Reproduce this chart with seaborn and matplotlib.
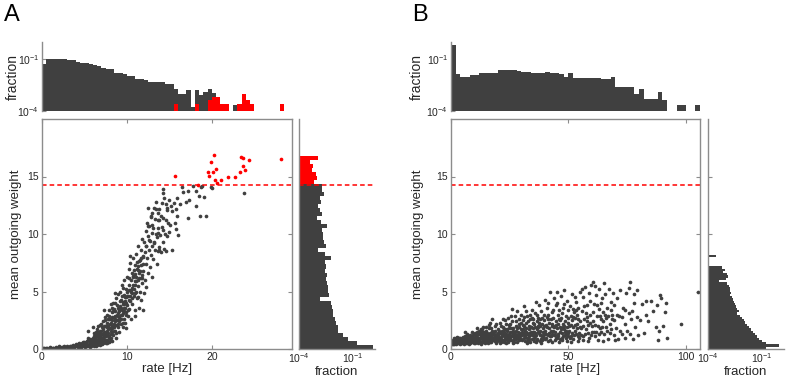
import numpy as np
import pandas as pd
import matplotlib
matplotlib.use("Agg")
import matplotlib.pyplot as plt
import seaborn as sns
from matplotlib.ticker import FixedLocator, LogFormatterMathtext, NullLocator, NullFormatter

# ---------------- data ----------------
threshold = 14.25

# Panel A: rate histogram (fraction), 0.5 Hz bins starting at 0
a_rate_bin = 0.5
a_rate_frac_gray = [0.051, 0.11, 0.11, 0.11, 0.10, 0.10, 0.087, 0.087, 0.072, 0.063,
                    0.063, 0.052, 0.047, 0.043, 0.032, 0.026, 0.026, 0.017, 0.017, 0.0145,
                    0.011, 0.011, 0.0072, 0.0072, 0.006, 0.005, 0.005, 0.0046, 0.0046, 0.0038,
                    0.0038, 0.002, 0.001, 0.001, 0.0016, 0.00018, 0.0016, 0.00085, 0.0013, 0.0019,
                    0.00105, 0.00068, 0.00025, 0.00025, 0, 0.00022, 0.00025, 0.00093, 0.00044, 0.00025,
                    0, 0, 0, 0, 0, 0, 0, 0]
a_rate_frac_red = [0, 0, 0, 0, 0, 0, 0, 0, 0, 0,
                   0, 0, 0, 0, 0, 0, 0, 0, 0, 0,
                   0, 0, 0, 0, 0, 0, 0, 0, 0, 0,
                   0, 0.00025, 0, 0, 0, 0, 0.00025, 0, 0, 0.00044,
                   0.00068, 0.00068, 0.00025, 0.00025, 0, 0, 0.00025, 0.00093, 0.00044, 0.00025,
                   0, 0, 0, 0, 0, 0, 0.00025, 0]

# Panel A: weight histogram (fraction), 0.35 bins starting at 0
a_weight_bin = 0.35
a_weight_frac_gray = [1.35, 0.16, 0.055, 0.029, 0.0155, 0.014, 0.011, 0.01, 0.0081, 0.0074,
                      0.0065, 0.006, 0.0015, 0.0049, 0.0043, 0.0039, 0.0035, 0.003, 0.0035, 0.0028,
                      0.003, 0.0028, 0.0058, 0.0028, 0.0012, 0.003, 0.0026, 0.0022, 0.0022, 0.002,
                      0.0036, 0.0017, 0.00096, 0.0018, 0.0015, 0.0012, 0.0017, 0.0015, 0.0026, 0.002,
                      0.0018]
a_weight_frac_red = [0.0007, 0.00105, 0.00087, 0.00055, 0.00063, 0.00041, 0.0012]

# Panel B: rate histogram (fraction), 2 Hz bins starting at 0
b_rate_bin = 2.0
b_rate_frac = [0.68, 0.0135, 0.0098, 0.0098, 0.0123, 0.0123, 0.015, 0.015, 0.017, 0.017,
               0.025, 0.025, 0.024, 0.024, 0.021, 0.019, 0.019, 0.016, 0.016, 0.016,
               0.019, 0.0155, 0.0155, 0.0135, 0.0098, 0.015, 0.0078, 0.0078, 0.0083, 0.0083,
               0.0078, 0.0078, 0.0069, 0.0069, 0.0088, 0.0026, 0.0026, 0.0026, 0.0024, 0.00093,
               0.002, 0.0005, 0.0005, 0.0005, 0.0012, 0.00044, 0, 0, 0.00022, 0.00022,
               0, 0, 0.00022]

# Panel B: weight histogram (fraction), 0.2 bins starting at 0
b_weight_bin = 0.2
b_weight_frac = [0.17, 0.9, 0.16, 0.1, 0.065, 0.05, 0.04, 0.03, 0.024, 0.019,
                 0.015, 0.012, 0.0096, 0.0078, 0.0062, 0.004, 0.005, 0.0043, 0.0035, 0.003,
                 0.0028, 0.0023, 0.0021, 0.0017, 0.002, 0.0016, 0.0017, 0.0014, 0.0011, 0.0004,
                 0.001, 0.0013, 0.0011, 0.0007, 0.00083, 0.0006, 0, 0, 0, 0,
                 0.00028]

# Panel A scatter: (rate [Hz], mean outgoing weight), neurons below the threshold
a_points_below = [
    (0.1, 0.02), (0.3, 0.03), (0.5, 0.05), (0.7, 0.04), (0.9, 0.08), (1.1, 0.06), (1.3, 0.1), (1.5, 0.08),
    (1.7, 0.12), (1.9, 0.1), (2.1, 0.15), (2.3, 0.12), (2.5, 0.18), (2.7, 0.14), (2.9, 0.2), (3.1, 0.16),
    (3.3, 0.24), (3.5, 0.18), (3.7, 0.28), (3.9, 0.22), (4.1, 0.3), (4.3, 0.25), (4.5, 0.35), (4.7, 0.28),
    (4.9, 0.42), (2.0, 0.22), (3.0, 0.3), (4.0, 0.45), (1.0, 0.15), (3.6, 0.38), (4.4, 0.55), (4.8, 0.6),
    (0.2, 0.08), (0.6, 0.1), (1.2, 0.02), (1.6, 0.18), (2.2, 0.05), (2.6, 0.26), (3.2, 0.08), (3.8, 0.12),
    (4.2, 0.15), (4.6, 0.45), (5.4, 1.6),
    (5.1, 0.2), (5.2, 0.45), (5.3, 0.7), (5.5, 0.3), (5.6, 0.55), (5.7, 0.85), (5.8, 0.25), (5.9, 0.6),
    (6.0, 1.0), (5.4, 0.95), (5.3, 0.25), (5.7, 0.15), (5.6, 0.4), (5.9, 0.35), (5.0, 0.6),
    (6.1, 0.3), (6.2, 0.7), (6.2, 1.2), (6.3, 0.5), (6.4, 0.9), (6.5, 0.35), (6.5, 1.4), (6.6, 0.65),
    (6.7, 1.1), (6.8, 0.45), (6.8, 1.6), (6.9, 0.85), (7.0, 1.3), (6.3, 1.5), (6.6, 2.0), (6.0, 1.9),
    (6.1, 0.55), (6.4, 0.5), (6.7, 0.8), (6.9, 0.6), (6.2, 0.95), (6.6, 1.25), (6.3, 0.25), (6.8, 0.35),
    (7.1, 0.4), (7.1, 1.0), (7.2, 1.7), (7.2, 2.4), (7.3, 0.6), (7.3, 1.3), (7.4, 2.0), (7.4, 2.8),
    (7.5, 0.5), (7.5, 1.1), (7.6, 1.6), (7.6, 2.3), (7.7, 0.8), (7.7, 3.0), (7.8, 1.4), (7.8, 2.0),
    (7.9, 0.6), (7.9, 2.6), (8.0, 1.0), (8.0, 1.8), (7.0, 2.2), (7.35, 3.4), (7.1, 0.7), (7.3, 0.9),
    (7.5, 0.8), (7.7, 1.2), (7.9, 1.1), (7.0, 1.6), (7.4, 1.5), (7.8, 1.7), (7.2, 0.5), (7.6, 0.55),
    (8.0, 0.7),
    (8.1, 1.3), (8.1, 2.3), (8.2, 3.2), (8.2, 0.7), (8.3, 1.8), (8.3, 2.8), (8.4, 4.0), (8.4, 1.2),
    (8.5, 2.2), (8.5, 3.5), (8.6, 1.6), (8.6, 2.9), (8.7, 4.4), (8.7, 1.0), (8.8, 2.5), (8.8, 3.8),
    (8.9, 1.9), (8.9, 3.1), (9.0, 4.8), (9.0, 2.2), (8.15, 3.9), (8.55, 4.9), (8.1, 1.6), (8.3, 1.5),
    (8.5, 1.9), (8.7, 2.1), (8.9, 2.5), (8.2, 2.0), (8.6, 2.4), (9.0, 2.9),
    (9.1, 1.5), (9.1, 2.8), (9.2, 3.7), (9.2, 5.0), (9.3, 2.2), (9.3, 4.3), (9.4, 3.0), (9.4, 5.6),
    (9.5, 1.9), (9.5, 3.9), (9.6, 2.6), (9.6, 4.7), (9.7, 3.3), (9.7, 6.0), (9.8, 2.3), (9.8, 4.2),
    (9.9, 5.2), (9.9, 3.0), (10.0, 3.8), (10.0, 6.3), (9.55, 5.3), (9.85, 1.8), (9.1, 2.4), (9.3, 3.0),
    (9.5, 3.1), (9.7, 3.9), (9.9, 4.0), (9.4, 3.4), (9.8, 3.6), (9.11, 3.4), (9.5, 4.12), (8.52, 2.82),
    (7.94, 3.4),
    (10.1, 2.9), (10.1, 4.6), (10.2, 5.6), (10.2, 7.0), (10.3, 3.5), (10.3, 6.2), (10.4, 4.2), (10.4, 7.5),
    (10.5, 5.0), (10.5, 2.6), (10.6, 6.6), (10.6, 3.9), (10.7, 5.6), (10.7, 7.9), (10.8, 4.6), (10.8, 6.9),
    (10.9, 3.4), (10.9, 5.9), (11.0, 7.3), (11.0, 4.9), (10.35, 8.1), (10.95, 2.9), (10.2, 4.3), (10.6, 4.9),
    (11.0, 5.6), (10.67, 6.31), (10.48, 5.14), (9.89, 4.56),
    (11.1, 6.3), (11.1, 8.3), (11.2, 4.4), (11.2, 7.0), (11.3, 5.5), (11.3, 9.0), (11.4, 6.6), (11.4, 3.6),
    (11.5, 7.7), (11.5, 5.0), (11.6, 8.6), (11.6, 6.2), (11.7, 4.3), (11.7, 7.3), (11.8, 9.6), (11.8, 5.7),
    (11.9, 8.0), (11.9, 6.8), (12.0, 4.9), (12.0, 9.3), (11.84, 3.4), (11.4, 6.2), (11.26, 4.56), (11.07, 5.87),
    (11.77, 6.17), (11.26, 6.89), (11.45, 7.61), (11.84, 8.05),
    (12.1, 6.0), (12.1, 8.4), (12.2, 10.3), (12.2, 7.4), (12.3, 5.4), (12.3, 9.0), (12.4, 11.0), (12.4, 7.9),
    (12.5, 6.6), (12.5, 9.8), (12.6, 8.6), (12.6, 10.7), (12.7, 7.1), (12.7, 9.4), (12.8, 11.5), (12.8, 8.2),
    (12.9, 10.1), (12.9, 6.3), (13.0, 9.0), (13.0, 11.8), (12.43, 12.3), (12.24, 8.92), (12.63, 9.5),
    (12.82, 11.53), (12.43, 10.66),
    (13.1, 7.8), (13.1, 10.5), (13.2, 12.3), (13.2, 9.3), (13.3, 8.6), (13.3, 11.3), (13.4, 10.0), (13.4, 12.8),
    (13.5, 7.4), (13.5, 9.7), (13.6, 11.8), (13.6, 8.5), (13.7, 10.5), (13.7, 11.2), (13.8, 8.9), (13.8, 12.2),
    (13.9, 9.9), (14.0, 11.6), (14.0, 8.4), (13.41, 12.2), (13.72, 11.25), (13.01, 10.81), (13.6, 10.08),
    (13.2, 9.21), (13.8, 8.63),
    (14.1, 10.6), (14.1, 12.7), (14.2, 9.3), (14.19, 13.95), (14.19, 13.57), (14.3, 11.4), (14.38, 13.14),
    (14.4, 8.7), (14.5, 10.0), (14.58, 11.25), (14.58, 8.49), (14.7, 12.3), (14.77, 9.85), (14.8, 11.0),
    (14.97, 12.93), (15.0, 10.2), (14.19, 10.36), (14.6, 12.6), (14.77, 12.12),
    (15.05, 10.81), (15.17, 12.41), (15.28, 8.63), (15.36, 11.97), (15.64, 10.95), (15.75, 10.43),
    (15.94, 11.53), (16.03, 9.94), (15.5, 12.7), (15.8, 12.2), (16.2, 12.6), (16.46, 14.1), (16.65, 13.63),
    (15.9, 13.1),
    (17.23, 13.72), (17.32, 12.93), (17.2, 11.39), (17.82, 14.2), (18.1, 12.41), (18.17, 13.72),
    (18.49, 13.34), (18.57, 11.6), (18.88, 14.2), (19.07, 13.22), (19.27, 11.6), (23.76, 13.57),
    (19.9, 14.05), (18.7, 14.1), (17.0, 12.8), (20.0, 14.0),
]
# Panel A scatter: extra neurons in the dense low-rate core
a_points_core = [
    (0.4, 0.0), (0.8, 0.02), (1.4, 0.04), (1.8, 0.06), (2.4, 0.08), (2.8, 0.1), (3.4, 0.12), (3.7, 0.1),
    (4.4, 0.2), (0.15, 0.05), (1.25, 0.13), (2.35, 0.2), (3.45, 0.3), (4.25, 0.4), (4.65, 0.15),
    (4.55, 0.2), (4.75, 0.5), (4.95, 0.3), (5.15, 0.6), (5.35, 0.45), (5.45, 0.8), (5.65, 0.7), (5.85, 0.9),
    (5.95, 0.45), (5.25, 0.35),
    (6.05, 0.75), (6.15, 1.1), (6.25, 0.4), (6.35, 0.75), (6.45, 1.15), (6.55, 0.55), (6.65, 1.5), (6.75, 0.95),
    (6.85, 1.3), (6.95, 1.05), (6.45, 1.7), (6.85, 2.1), (6.15, 1.35),
    (7.05, 1.9), (7.15, 1.3), (7.25, 2.0), (7.35, 1.1), (7.45, 2.5), (7.55, 1.35), (7.65, 1.9), (7.75, 2.6),
    (7.85, 1.0), (7.95, 2.2), (7.25, 1.5), (7.55, 2.0), (7.85, 2.9),
    (8.05, 2.6), (8.15, 1.0), (8.25, 2.5), (8.35, 3.3), (8.45, 1.6), (8.55, 2.6), (8.65, 3.3), (8.75, 1.4),
    (8.85, 3.0), (8.95, 3.6), (8.25, 3.6), (8.65, 4.0),
    (9.05, 3.3), (9.15, 4.2), (9.25, 2.6), (9.35, 3.6), (9.45, 4.6), (9.55, 2.3), (9.65, 3.6), (9.75, 4.5),
    (9.85, 3.2), (9.95, 4.6), (10.05, 5.0), (10.15, 3.4), (10.25, 5.1), (10.35, 4.6), (10.45, 6.0),
    (10.55, 4.4), (10.65, 5.3), (10.75, 6.3), (10.85, 5.2), (10.95, 6.5), (11.05, 5.0), (11.15, 7.6),
    (11.25, 6.0), (11.35, 7.2), (11.55, 6.8), (11.65, 7.9), (11.75, 6.4), (11.95, 7.4),
]
# Panel A scatter: neurons above the threshold (red)
a_points_above = [
    (15.67, 15.08), (20.25, 16.83), (19.93, 16.24), (20.5, 15.66), (20.13, 15.37), (19.58, 15.37),
    (19.66, 15.02), (20.36, 14.67), (21.03, 14.67), (21.92, 14.97), (22.67, 14.94), (23.26, 15.37),
    (23.45, 16.71), (23.65, 16.63), (23.65, 15.95), (23.96, 15.55), (24.35, 16.42), (28.18, 16.55),
    (20.6, 14.4), (18.41, 14.3),
]

# Panel B scatter: (rate [Hz], mean outgoing weight)
b_points = [
    (0.3, 0.55), (0.6, 0.7), (0.9, 0.45), (1.2, 0.8), (1.5, 0.6), (1.8, 0.5), (2.1, 0.75), (2.4, 0.65),
    (2.7, 0.9), (3.0, 0.5), (3.3, 0.7), (3.6, 0.85), (3.9, 0.6), (4.2, 0.75), (4.5, 0.95), (4.8, 0.55),
    (0.5, 0.4), (1.0, 0.6), (2.0, 0.45), (3.0, 0.95), (4.0, 0.4), (0.2, 0.75), (2.5, 1.05), (4.6, 0.7),
    (5.2, 0.6), (5.5, 0.9), (5.9, 1.1), (6.2, 0.5), (6.5, 0.75), (6.9, 1.3), (7.3, 0.65), (7.6, 1.0),
    (8.0, 0.55), (8.3, 1.2), (8.7, 0.8), (9.0, 1.45), (9.4, 0.7), (9.8, 1.0), (6.0, 1.5), (7.8, 0.45),
    (8.9, 0.6), (5.6, 0.45), (9.5, 1.25), (7.0, 0.9),
    (10.2, 0.6), (10.5, 1.1), (10.9, 1.5), (11.3, 0.8), (11.6, 0.5), (12.0, 1.3), (12.4, 0.95), (12.8, 1.7),
    (13.1, 0.65), (13.5, 1.2), (13.9, 0.85), (14.2, 1.5), (14.6, 0.55), (14.9, 1.05), (11.0, 1.85),
    (12.6, 0.45), (13.7, 1.9), (10.7, 0.75), (12.2, 1.55), (14.4, 1.25),
    (15.2, 0.7), (15.5, 1.35), (15.9, 0.95), (16.2, 1.8), (16.6, 0.6), (17.0, 1.15), (17.3, 2.6), (17.7, 0.8),
    (18.1, 1.5), (18.4, 1.0), (18.8, 2.0), (19.1, 0.55), (19.5, 1.3), (19.8, 1.7), (16.0, 2.1), (17.5, 1.6),
    (18.6, 0.7), (19.3, 2.2), (15.7, 0.5), (16.8, 1.4),
    (20.2, 0.9), (20.5, 1.6), (20.9, 2.3), (21.3, 0.65), (21.6, 1.2), (22.0, 1.9), (22.4, 0.8), (22.7, 1.45),
    (23.1, 2.5), (23.5, 1.0), (23.8, 1.75), (24.2, 0.6), (24.6, 1.3), (24.9, 2.1), (21.0, 1.0), (22.2, 2.6),
    (23.3, 0.5), (24.4, 2.7), (20.7, 0.55), (22.9, 1.1), (24.0, 1.55), (21.8, 0.75),
    (25.2, 1.0), (25.6, 1.8), (26.0, 2.4), (26.3, 0.7), (26.7, 1.35), (27.1, 2.9), (27.4, 1.05), (27.8, 2.0),
    (28.2, 0.6), (28.5, 1.5), (28.9, 2.6), (29.3, 0.9), (29.6, 1.7), (29.9, 3.0), (25.4, 2.9), (26.5, 0.5),
    (27.6, 1.6), (28.7, 1.1), (29.1, 2.2), (25.9, 1.25), (27.0, 0.85), (28.0, 3.3), (26.1, 3.5),
    (30.2, 1.2), (30.5, 2.1), (30.9, 2.8), (31.3, 0.7), (31.6, 1.6), (32.0, 3.3), (32.4, 1.0), (32.7, 2.4),
    (33.1, 1.4), (33.5, 3.0), (33.8, 0.6), (34.2, 1.9), (34.6, 2.7), (34.9, 1.2), (31.0, 3.7), (32.2, 0.55),
    (33.3, 2.0), (34.4, 3.4), (30.7, 1.7), (31.8, 2.3), (32.9, 0.8), (34.0, 1.5), (30.0, 0.9), (33.7, 2.6),
    (35.2, 1.0), (35.5, 2.2), (35.9, 3.1), (36.3, 0.6), (36.6, 1.7), (37.0, 2.7), (37.4, 3.8), (37.8, 1.2),
    (38.1, 2.0), (38.5, 3.3), (38.9, 0.8), (39.2, 1.5), (39.6, 2.5), (39.9, 4.3), (35.7, 1.4), (36.8, 0.9),
    (37.6, 2.3), (38.7, 1.0), (39.4, 3.0), (36.1, 4.1), (35.0, 2.6), (38.3, 0.55), (39.0, 1.8), (36.4, 2.4),
    (37.2, 1.9),
    (40.2, 1.3), (40.5, 2.1), (40.9, 3.6), (41.3, 0.7), (41.6, 1.8), (42.0, 5.0), (42.4, 2.6), (42.7, 1.1),
    (43.1, 3.2), (43.5, 1.6), (43.8, 4.4), (44.2, 0.8), (44.6, 2.4), (44.9, 3.8), (40.7, 2.8), (41.9, 1.4),
    (43.0, 0.6), (44.0, 1.9), (41.1, 4.0), (42.9, 2.0), (43.3, 2.7), (44.4, 1.2), (40.0, 0.9), (45.0, 5.0),
    (41.5, 3.0),
    (45.3, 1.0), (45.6, 2.2), (46.0, 3.4), (46.3, 1.5), (46.7, 4.6), (47.0, 2.7), (47.4, 0.8), (47.7, 1.9),
    (48.1, 3.9), (48.5, 1.2), (48.8, 2.9), (49.2, 4.2), (49.5, 0.7), (49.9, 2.3), (45.8, 0.6), (46.9, 1.7),
    (47.9, 5.1), (48.9, 1.6), (49.7, 3.4), (46.4, 2.5), (47.3, 3.1), (48.3, 2.0), (49.1, 1.0), (45.1, 4.0),
    (50.0, 1.4),
    (50.3, 2.0), (50.6, 3.7), (51.0, 1.1), (51.4, 4.8), (51.7, 2.5), (52.1, 0.9), (52.4, 3.2), (52.8, 1.6),
    (53.2, 4.1), (53.5, 2.2), (53.9, 0.7), (54.2, 3.6), (54.6, 1.4), (54.9, 5.0), (50.9, 2.9), (52.0, 1.9),
    (53.0, 2.7), (54.0, 1.1), (51.2, 0.6), (55.0, 2.4), (52.6, 4.5), (53.7, 3.0),
    (55.3, 1.2), (55.7, 3.3), (56.0, 4.5), (56.4, 0.8), (56.8, 2.6), (57.1, 5.4), (57.5, 1.7), (57.9, 3.8),
    (58.2, 2.1), (58.6, 4.9), (58.9, 1.0), (59.3, 3.0), (59.6, 5.6), (59.9, 1.5), (56.2, 2.0), (57.3, 3.1),
    (58.4, 0.7), (59.1, 4.2), (55.8, 5.2), (58.0, 2.8),
    (60.3, 5.8), (60.6, 2.4), (61.0, 3.9), (61.4, 1.1), (61.7, 4.7), (62.1, 2.9), (62.4, 0.8), (62.8, 3.5),
    (63.2, 5.2), (63.5, 1.8), (63.9, 2.6), (64.2, 4.4), (64.6, 0.7), (64.9, 3.2), (61.2, 5.5), (62.6, 2.0),
    (63.7, 4.0), (60.8, 1.5), (64.4, 1.9), (65.0, 5.7),
    (65.3, 1.3), (65.7, 4.8), (66.1, 2.7), (66.4, 3.6), (66.8, 0.9), (67.2, 5.2), (67.5, 2.2), (67.9, 4.1),
    (68.3, 1.7), (68.6, 3.0), (69.0, 4.9), (69.3, 2.5), (69.7, 0.8), (66.0, 1.9), (68.0, 3.4), (69.5, 3.8),
    (70.2, 1.8), (70.8, 4.4), (71.4, 2.9), (72.0, 5.1), (72.6, 1.3), (73.3, 3.6), (73.9, 2.2), (74.5, 4.9),
    (75.0, 1.6), (75.6, 3.1), (76.2, 5.8), (76.8, 2.6), (77.3, 0.9), (77.9, 4.0), (78.5, 1.9), (79.0, 5.1),
    (79.6, 1.2), (71.0, 0.9), (74.0, 1.0), (75.8, 5.3), (78.0, 4.8),
    (80.5, 2.5), (81.2, 3.9), (82.0, 1.4), (83.1, 3.0), (84.0, 2.4), (85.2, 4.2), (86.0, 3.3), (87.1, 1.9),
    (88.3, 0.8), (89.0, 4.7), (89.6, 4.4), (90.3, 2.0), (91.0, 3.2), (91.5, 4.0), (92.0, 1.0), (97.9, 2.2),
    (105.0, 5.0), (82.8, 4.2), (87.5, 3.8), (88.5, 1.6),
]
# Panel B scatter: extra neurons in the dense core
b_points_core = [
    (0.4, 0.65), (0.8, 0.55), (1.1, 0.7), (1.4, 0.45), (1.7, 0.65), (2.2, 0.55), (2.6, 0.8), (2.9, 0.6),
    (3.4, 0.55), (3.8, 0.75), (4.3, 0.5), (4.7, 0.85), (5.0, 0.7), (5.4, 0.55), (5.8, 0.8), (6.3, 0.65),
    (6.7, 0.55), (7.1, 0.75), (7.5, 0.85), (8.1, 0.7), (8.5, 0.6), (9.2, 0.9), (9.7, 0.55), (5.1, 1.05),
    (6.6, 1.1), (8.2, 1.0), (9.9, 1.3), (3.5, 1.0), (1.3, 0.95),
    (10.1, 0.9), (10.4, 0.55), (10.8, 1.0), (11.2, 1.2), (11.5, 0.7), (11.9, 0.9), (12.3, 0.6), (12.7, 1.1),
    (13.0, 0.9), (13.3, 1.45), (13.6, 0.6), (14.0, 1.1), (14.3, 0.75), (14.7, 1.3), (15.0, 0.9), (15.4, 1.1),
    (15.8, 0.75), (16.1, 1.2), (16.4, 0.85), (16.9, 1.0), (17.2, 0.65), (17.6, 1.3), (17.9, 1.0), (18.3, 0.8),
    (18.7, 1.25), (19.0, 0.95), (19.4, 0.7), (19.7, 1.1), (11.8, 1.6), (13.2, 1.7), (15.1, 1.6), (17.1, 1.8),
    (18.9, 1.6), (16.5, 2.3), (14.8, 1.9), (10.3, 1.4),
    (20.1, 1.2), (20.4, 0.75), (20.8, 1.4), (21.1, 0.85), (21.5, 1.6), (21.9, 1.1), (22.3, 1.3), (22.6, 0.65),
    (23.0, 1.7), (23.4, 1.3), (23.7, 0.8), (24.1, 1.1), (24.5, 1.8), (24.8, 0.75), (25.1, 1.45), (25.5, 0.8),
    (25.8, 1.5), (26.2, 1.1), (26.6, 1.8), (26.9, 0.65), (27.3, 1.3), (27.7, 0.9), (28.1, 1.8), (28.4, 1.2),
    (28.8, 0.75), (29.2, 1.4), (29.5, 1.1), (29.8, 2.3), (21.4, 2.0), (23.6, 2.2), (25.3, 2.2), (27.5, 2.4),
    (29.0, 1.9), (22.5, 1.7), (26.4, 1.6), (24.3, 0.9),
    (30.1, 1.5), (30.4, 0.8), (30.8, 1.3), (31.1, 2.0), (31.5, 1.1), (31.9, 1.8), (32.3, 1.3), (32.6, 0.7),
    (33.0, 1.7), (33.4, 1.1), (33.9, 1.9), (34.3, 0.9), (34.7, 1.5), (35.1, 1.8), (35.4, 0.7), (35.8, 1.9),
    (36.2, 1.2), (36.5, 0.8), (36.9, 2.0), (37.3, 1.4), (37.7, 0.7), (38.0, 1.6), (38.4, 1.2), (38.8, 2.2),
    (39.1, 1.0), (39.5, 1.3), (39.8, 2.0), (30.6, 2.5), (32.5, 2.9), (34.8, 2.3), (36.7, 3.0), (38.6, 2.7),
    (31.4, 1.4), (33.6, 1.3), (35.3, 1.5), (37.9, 2.6),
    (40.1, 1.6), (40.4, 1.0), (40.8, 1.9), (41.2, 1.2), (41.7, 2.3), (42.1, 0.8), (42.5, 1.6), (42.8, 2.2),
    (43.2, 1.3), (43.6, 2.0), (44.1, 1.5), (44.5, 1.0), (44.8, 2.1), (45.2, 1.8), (45.5, 1.3), (45.9, 2.6),
    (46.2, 0.9), (46.6, 1.9), (47.1, 1.4), (47.5, 2.2), (47.8, 1.1), (48.2, 1.7), (48.6, 2.4), (49.0, 1.3),
    (49.4, 1.9), (49.8, 1.1), (50.2, 1.6), (50.7, 1.0), (51.1, 2.1), (51.5, 1.4), (51.9, 2.8), (52.3, 1.2),
    (52.7, 2.1), (53.1, 1.3), (53.6, 1.8), (54.1, 2.6), (54.5, 1.0), (54.8, 1.9), (41.4, 2.6), (43.4, 3.4),
    (45.4, 3.0), (47.6, 3.6), (49.6, 2.7), (51.8, 3.5), (53.3, 3.4),
    (55.5, 1.8), (56.1, 1.1), (56.6, 3.7), (57.0, 1.3), (57.7, 2.4), (58.5, 1.4), (59.0, 2.3), (59.5, 1.2),
    (60.1, 2.0), (60.5, 3.2), (61.1, 2.1), (61.6, 1.5), (62.2, 3.8), (62.9, 1.3), (63.4, 2.9), (64.0, 1.5),
    (64.7, 2.4), (65.5, 3.0), (66.3, 1.6), (67.0, 2.9), (67.7, 1.4), (68.4, 2.6), (69.2, 1.2), (70.5, 3.0),
    (71.8, 1.6), (73.0, 2.8), (74.2, 3.4), (76.0, 1.3), (77.0, 3.3), (79.3, 2.8),
    (1.6, 0.85), (2.3, 0.95), (3.1, 0.8), (3.9, 0.95), (4.4, 0.65), (5.3, 0.85), (6.1, 0.95), (6.8, 0.7),
    (7.4, 1.1), (8.4, 0.9), (9.1, 1.1), (9.6, 0.8), (10.6, 1.25), (11.4, 1.0), (12.1, 0.75), (12.9, 1.3),
    (13.8, 1.0), (14.5, 0.95), (15.3, 1.25), (16.3, 1.0), (17.4, 0.9), (18.2, 1.2), (19.2, 0.85), (19.9, 1.4),
    (20.6, 1.05), (21.7, 1.4), (22.8, 0.95), (23.9, 1.25), (24.7, 1.0), (25.7, 1.15), (26.8, 1.05),
    (27.9, 1.25), (28.6, 0.95), (29.7, 1.3), (30.9, 1.0), (32.1, 1.5), (33.2, 0.9), (34.5, 1.2), (35.6, 1.1),
    (36.9, 1.5), (38.2, 0.9), (39.3, 1.15), (40.6, 1.3), (42.2, 1.1), (43.9, 1.2), (45.7, 1.1), (47.2, 1.0),
    (48.7, 1.5),
]

# ---------------- style ----------------
sns.set_theme(style="white")
plt.rcParams["font.family"] = ["Liberation Sans", "DejaVu Sans"]
plt.rcParams["mathtext.fontset"] = "custom"
plt.rcParams["mathtext.rm"] = "Liberation Sans"
plt.rcParams["mathtext.it"] = "Liberation Sans:italic"
plt.rcParams["mathtext.bf"] = "Liberation Sans:bold"

GRAY = "#404040"
RED = "#ff0000"
SPINE = "#8c8c8c"
TXT = "#262626"
TICK_FS = 7.5
LAB_FS = 9.5
DOT = 7

W, H = 804, 378
fig = plt.figure(figsize=(8.04, 3.78), dpi=100)


def rect(l, t, r, b):
    return [l / W, 1 - b / H, (r - l) / W, (b - t) / H]


def centers_of(bin_w, n, start=0.0):
    return start + bin_w * (np.arange(n) + 0.5)


def style_spines(ax, visible):
    for side in ["left", "right", "top", "bottom"]:
        ax.spines[side].set_visible(side in visible)
        ax.spines[side].set_color(SPINE)
        ax.spines[side].set_linewidth(1.0)


def top_hist(ax, series, bin_w, xmax, colors, label_right):
    for frac, col in zip(series, colors):
        df = pd.DataFrame({"rate": centers_of(bin_w, len(frac)), "frac": frac})
        sns.barplot(data=df, x="rate", y="frac", native_scale=True, width=1.0,
                    color=col, saturation=1, linewidth=0, errorbar=None, ax=ax)
    ax.set_yscale("log")
    ax.set_ylim(1e-4, 1)
    ax.set_xlim(0, xmax)
    style_spines(ax, ["left"])
    ax.yaxis.set_major_locator(FixedLocator([1e-4, 1e-1]))
    ax.yaxis.set_major_formatter(LogFormatterMathtext())
    ax.yaxis.set_minor_locator(NullLocator())
    ax.set_xticks([])
    ax.tick_params(axis="y", direction="in", length=3, width=0.8, color=SPINE,
                   labelsize=TICK_FS, pad=2.0, labelcolor=TXT, left=True)
    ax.set_xlabel("")
    ax.set_ylabel("fraction", fontsize=LAB_FS + 0.5, color=TXT)
    ax.yaxis.set_label_coords(label_right, 0.5)


def scatter(ax, groups, xmax, xticks, label_right):
    for pts, col in groups:
        df = pd.DataFrame(pts, columns=["rate", "weight"])
        sns.scatterplot(data=df, x="rate", y="weight", color=col, s=DOT, linewidth=0,
                        ax=ax, legend=False)
    ax.axhline(threshold, color=RED, lw=1.1, ls=(0, (3, 2)))
    ax.set_xlim(0, xmax)
    ax.set_ylim(0, 20)
    ax.set_xticks(xticks)
    ax.set_yticks([0, 5, 10, 15])
    style_spines(ax, ["left", "right", "top", "bottom"])
    ax.tick_params(direction="in", length=3, width=0.8, color=SPINE, labelsize=TICK_FS,
                   labelcolor=TXT, top=True, right=True, bottom=True, left=True)
    ax.tick_params(axis="x", pad=2)
    ax.tick_params(axis="y", pad=2.5)
    ax.set_xlabel("rate [Hz]", fontsize=LAB_FS, color=TXT)
    ax.xaxis.set_label_coords(0.5, -0.06)
    ax.set_ylabel("mean outgoing weight", fontsize=LAB_FS, color=TXT)
    ax.yaxis.set_label_coords(label_right, 0.5)


def right_hist(ax, series, line):
    for frac, bin_w, start, col in series:
        df = pd.DataFrame({"weight": centers_of(bin_w, len(frac), start), "frac": frac})
        sns.barplot(data=df, x="frac", y="weight", orient="y", native_scale=True, width=1.0,
                    color=col, saturation=1, linewidth=0, errorbar=None, ax=ax)
    ax.set_xscale("log")
    ax.set_xlim(1e-4, 10 ** 0.22)
    ax.set_ylim(0, 20)
    if line:
        ax.axhline(threshold, color=RED, lw=1.1, ls=(0, (3, 2)))
    style_spines(ax, ["left", "bottom"])
    ax.xaxis.set_major_locator(FixedLocator([1e-4, 1e-1]))
    ax.xaxis.set_major_formatter(LogFormatterMathtext())
    ax.xaxis.set_minor_locator(NullLocator())
    ax.set_yticks([5, 10, 15])
    ax.yaxis.set_major_formatter(NullFormatter())
    ax.tick_params(direction="in", length=3, width=0.8, color=SPINE, labelsize=TICK_FS,
                   labelcolor=TXT, left=True, bottom=True)
    ax.tick_params(axis="x", pad=1.5)
    ax.set_ylabel("")
    ax.set_xlabel("fraction", fontsize=LAB_FS, color=TXT)
    ax.xaxis.set_label_coords(0.5, -0.075)


# ---------------- panel A ----------------
ax_at = fig.add_axes(rect(42, 42, 291.7, 111))
top_hist(ax_at, [a_rate_frac_gray, a_rate_frac_red], a_rate_bin, 29.4, [GRAY, RED], -0.09)

ax_as = fig.add_axes(rect(42, 119, 291.7, 349))
scatter(ax_as, [(a_points_below + a_points_core, GRAY), (a_points_above, RED)], 29.4, [0, 10, 20], -0.08)

ax_ar = fig.add_axes(rect(299, 119, 375, 349))
n_gray = len(a_weight_frac_gray)
right_hist(ax_ar, [(a_weight_frac_gray, a_weight_bin, 0.0, GRAY),
                   (a_weight_frac_red, a_weight_bin, n_gray * a_weight_bin, RED)], True)

# ---------------- panel B ----------------
ax_bt = fig.add_axes(rect(451, 42, 700, 111))
top_hist(ax_bt, [b_rate_frac], b_rate_bin, 106, [GRAY], -0.11)

ax_bs = fig.add_axes(rect(451, 119, 700, 349))
scatter(ax_bs, [(b_points + b_points_core, GRAY)], 106, [0, 50, 100], -0.108)

ax_br = fig.add_axes(rect(708, 119, 784, 349))
right_hist(ax_br, [(b_weight_frac, b_weight_bin, 0.0, GRAY)], False)

fig.text(4 / W, 1 - 4 / H, "A", fontsize=17, va="top", ha="left", color="black")
fig.text(412 / W, 1 - 4 / H, "B", fontsize=17, va="top", ha="left", color="black")

fig.savefig("out.png", dpi=100)
